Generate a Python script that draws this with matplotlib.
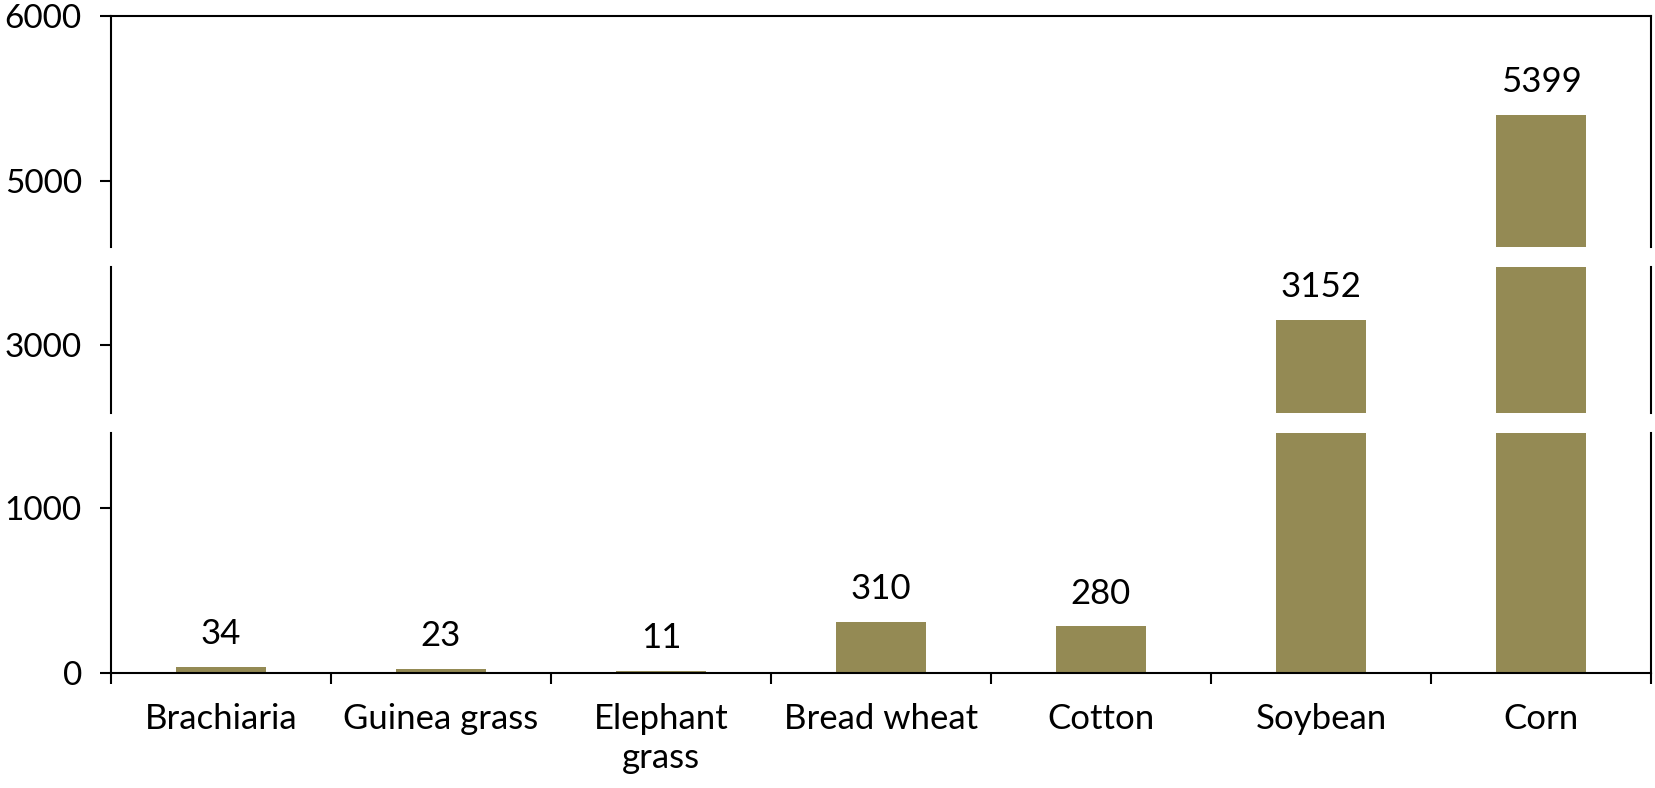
import matplotlib
matplotlib.use("Agg")
import matplotlib.pyplot as plt
from matplotlib.ticker import FixedLocator

categories = ["Brachiaria", "Guinea grass", "Elephant\ngrass", "Bread wheat", "Cotton", "Soybean", "Corn"]
values = [34, 23, 11, 310, 280, 3152, 5399]
labels = ["34", "23", "11", "310", "280", "3152", "5399"]

# broken-axis segments (low, high) and their ticks
segments = [(4600, 6000), (2580, 3480), (0, 1450)]
seg_ticks = [[5000, 6000], [3000], [0, 1000]]

bar_color = "#948A54"
plt.rcParams["font.family"] = ["Lato", "DejaVu Sans"]
FS = 25

W, H = 1655, 788
fig = plt.figure(figsize=(W / 100, H / 100), dpi=100)

left_px, right_px = 111, 1651
# pixel rows (from top) of each panel
panel_px = [(16, 246.7), (266.7, 413.3), (433.3, 672.7)]

axes = []
for i, ((top, bot), (lo, hi), ticks) in enumerate(zip(panel_px, segments, seg_ticks)):
    ax = fig.add_axes([left_px / W, 1 - bot / H, (right_px - left_px) / W, (bot - top) / H])
    x = list(range(len(categories)))
    ax.bar(x, values, width=0.41, color=bar_color, zorder=2)
    ax.set_ylim(lo, hi)
    ax.set_xlim(-0.5, len(categories) - 0.5)
    ax.set_yticks(ticks)
    ax.set_yticklabels([str(t) for t in ticks], fontsize=24)
    ax.tick_params(axis="y", direction="out", length=8, width=1.5, pad=13)
    for s in ax.spines.values():
        s.set_linewidth(1.5)
        s.set_color("black")
    ax.spines["top"].set_visible(i == 0)
    ax.spines["bottom"].set_visible(i == 2)
    if i == 2:
        ax.set_xticks(x)
        ax.set_xticklabels(categories, fontsize=FS, linespacing=1.25)
        ax.tick_params(axis="x", which="major", length=0, pad=22)
        ax.xaxis.set_minor_locator(FixedLocator([k - 0.5 for k in range(len(categories) + 1)]))
        ax.tick_params(axis="x", which="minor", direction="out", length=8, width=1.5)
    else:
        ax.set_xticks([])
    for xi, v, lab in zip(x, values, labels):
        if lo <= v <= hi:
            ax.annotate(lab, (xi, v), xytext=(0, 12), textcoords="offset points",
                        ha="center", va="bottom", fontsize=FS, clip_on=False)
    axes.append(ax)

fig.savefig("out.png", dpi=100, facecolor="white")
